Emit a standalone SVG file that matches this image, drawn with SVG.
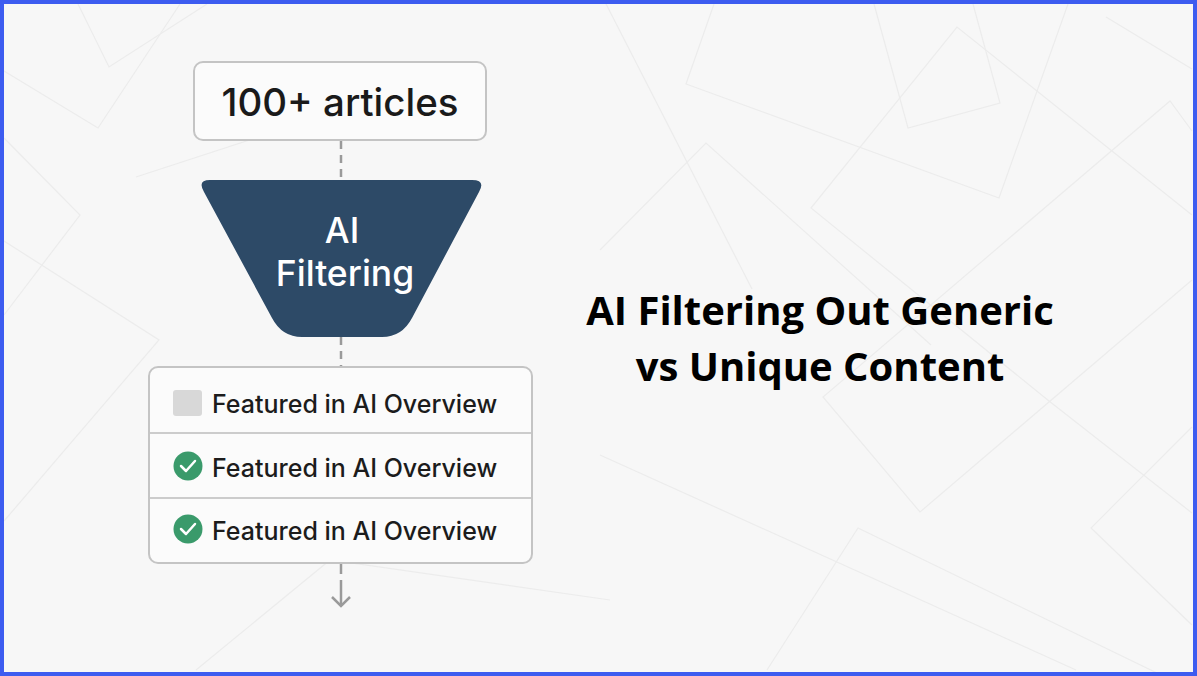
<svg xmlns="http://www.w3.org/2000/svg" width="1197" height="676" viewBox="0 0 1197 676">
<defs>
<style>
.bg{fill:none;stroke:#ececec;stroke-width:1.2}
.box{fill:#fbfbfb;stroke:#c4c4c4;stroke-width:2}
.conn{stroke:#9a9a9a;stroke-width:2.5;fill:none}
.dash{stroke-dasharray:8 6}
.sans{font-family:"Inter","Open Sans",sans-serif;font-weight:500}
.item{font-size:25px;fill:#1c1c1c}
.title{font-family:"Open Sans","Noto Sans",sans-serif;font-weight:700;font-size:40px;fill:#000;text-anchor:middle}
</style>
</defs>
<rect x="0" y="0" width="1197" height="676" fill="#f7f7f7"/>
<g id="background">
<polyline class="bg" points="78,4 109,67 207,4"/>
<polyline class="bg" points="4,71 98,128 180,4"/>
<polyline class="bg" points="4,138 80,215 4,315"/>
<polyline class="bg" points="136,177 302,123"/>
<polyline class="bg" points="4,521 159,340 4,241"/>
<polyline class="bg" points="714,4 686,84 999,198 1068,4"/>
<polyline class="bg" points="874,4 908,128 1000,103 973,4"/>
<polyline class="bg" points="1192,215 957,27 811,208 1049,401 1192,513"/>
<polyline class="bg" points="1192,131 1170,101 823,397 920,512 1192,280"/>
<polyline class="bg" points="600,250 706,143 931,345"/>
<polyline class="bg" points="600,455 1076,670"/>
<polyline class="bg" points="767,670 858,528 1192,690"/>
<polyline class="bg" points="1192,427 1091,528 1192,625"/>
<polyline class="bg" points="604,0 752,289"/>
<polyline class="bg" points="1106,17 1192,69"/>
<polyline class="bg" points="196,670 330,560 610,600"/>
</g>
<g id="connectors">
<line class="conn dash" x1="341" y1="141" x2="341" y2="180"/>
<line class="conn dash" x1="341" y1="337" x2="341" y2="367"/>
<line class="conn" x1="341" y1="564" x2="341" y2="574"/>
<line class="conn" x1="341" y1="580" x2="341" y2="606"/>
<polyline class="conn" points="332,597 341,606 350,597"/>
</g>
<g id="node-articles">
<rect class="box" x="194" y="62" width="292" height="78" rx="9"/>
<text class="sans" x="340" y="116" text-anchor="middle" font-size="38.5" fill="#1a1a1a">100+ articles</text>
</g>
<g id="node-filter">
<path d="M 210 180 L 472 180 Q 486 180 479 192 L 412 318 Q 402 337 382 337 L 302 337 Q 282 337 272 318 L 204 192 Q 197 180 210 180 Z" fill="#2d4a67"/>
<text class="sans" x="342" y="243" text-anchor="middle" font-size="35" fill="#ffffff">AI</text>
<text class="sans" x="345" y="286" text-anchor="middle" font-size="35.5" fill="#ffffff">Filtering</text>
</g>
<g id="node-results">
<rect class="box" x="149" y="367" width="383" height="196" rx="9"/>
<line x1="150" y1="433" x2="531" y2="433" stroke="#cccccc" stroke-width="2"/>
<line x1="150" y1="498" x2="531" y2="498" stroke="#cccccc" stroke-width="2"/>
<rect x="173" y="390" width="29" height="26" rx="3" fill="#d8d8d8"/>
<text class="sans item" x="212" y="413">Featured in AI Overview</text>
<circle cx="188" cy="466" r="14.5" fill="#3a9a6b"/>
<polyline points="181,466 186,471 195,461" fill="none" stroke="#fff" stroke-width="2.5" stroke-linecap="round" stroke-linejoin="round"/>
<text class="sans item" x="212" y="477">Featured in AI Overview</text>
<circle cx="188" cy="529" r="14.5" fill="#3a9a6b"/>
<polyline points="181,529 186,534 195,524" fill="none" stroke="#fff" stroke-width="2.5" stroke-linecap="round" stroke-linejoin="round"/>
<text class="sans item" x="212" y="540">Featured in AI Overview</text>
</g>
<g id="title">
<text class="title" x="820" y="325">AI Filtering Out Generic</text>
<text class="title" x="820" y="381">vs Unique Content</text>
</g>
<rect x="2" y="2" width="1193" height="672" fill="none" stroke="#3d5cf0" stroke-width="4"/>
</svg>
